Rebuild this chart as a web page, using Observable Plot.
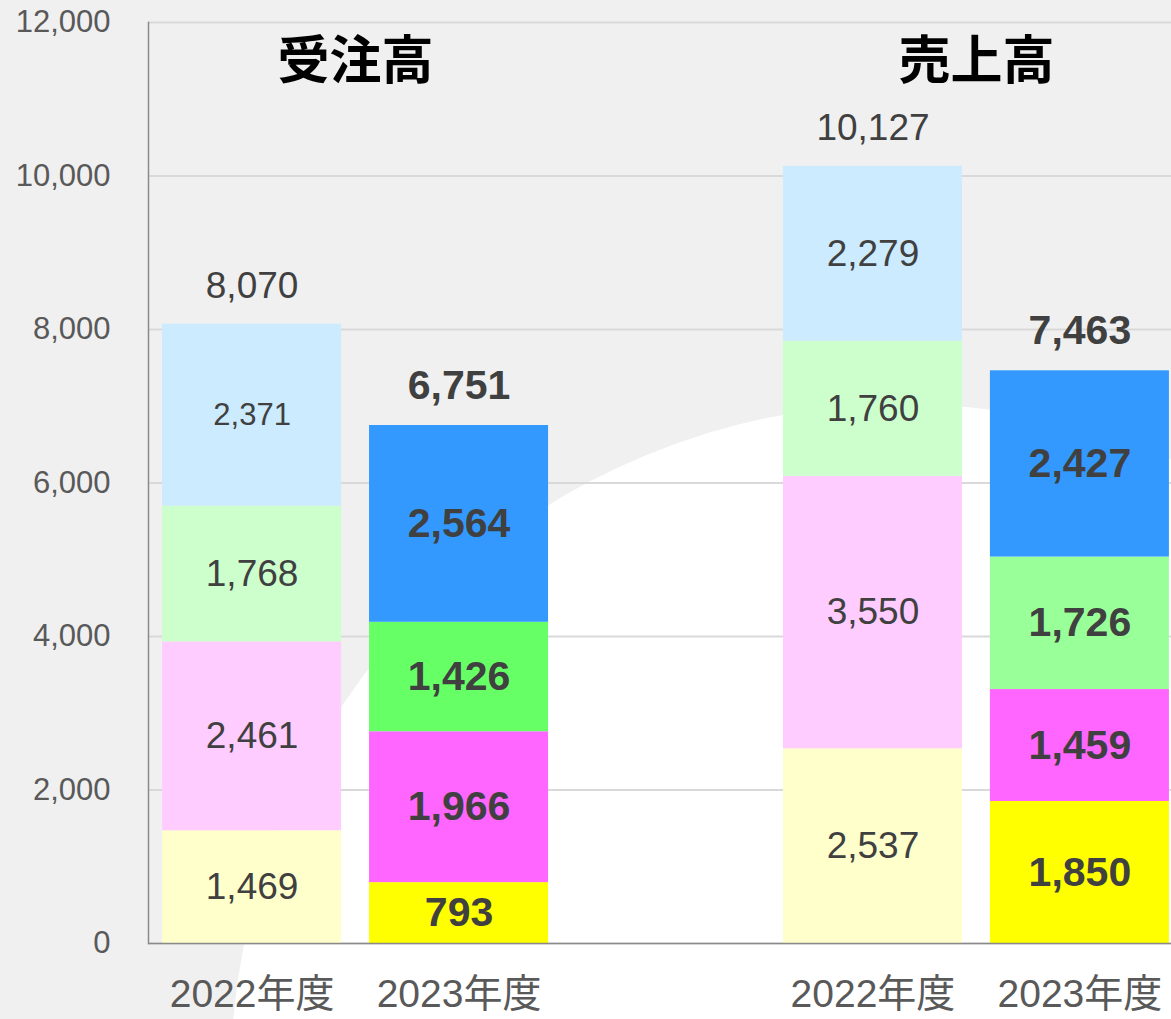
<!DOCTYPE html>
<html><head><meta charset="utf-8">
<script src="https://cdn.jsdelivr.net/npm/d3@7"></script>
<script src="https://cdn.jsdelivr.net/npm/@observablehq/plot@0.6"></script>
<style>
html,body{margin:0;padding:0;background:#f0f0f0;overflow:hidden;}
#wrap{position:relative;width:1171px;height:1019px;overflow:hidden;background:#f0f0f0;}
#circle{position:absolute;left:231px;top:404px;width:1344px;height:1344px;border-radius:50%;background:#ffffff;}
#chart{position:absolute;left:0;top:0;}
</style></head><body>
<div id="wrap"><div id="circle"></div><div id="chart"></div></div>
<script>
// ---- data ----
const groups = ["受注高", "売上高"];
const years = ["2022年度", "2023年度"];
const orders2022 = [1469, 2461, 1768, 2371];   // bottom -> top
const orders2023 = [793, 1966, 1426, 2564];
const sales2022 = [2537, 3550, 1760, 2279];
const sales2023 = [1850, 1459, 1726, 2427];
const totals = [8070, 6751, 10127, 7463];
const yTicks = [0, 2000, 4000, 6000, 8000, 10000, 12000];
const colors2022 = ["#FFFFCC", "#FFCCFF", "#CCFFCC", "#CCEBFF"];
const colorsOrders2023 = ["#FFFF00", "#FF66FF", "#66FF66", "#3399FF"];
const colorsSales2023 = ["#FFFF00", "#FF66FF", "#99FF99", "#3399FF"];

// ---- build tables ----
const key = (g, y) => g + "|" + y;
const GAP = "gap";
const domain = [key(groups[0], years[0]), key(groups[0], years[1]), GAP, key(groups[1], years[0]), key(groups[1], years[1])];
const series = [
  {g: groups[0], y: years[0], values: orders2022, colors: colors2022, bold: false},
  {g: groups[0], y: years[1], values: orders2023, colors: colorsOrders2023, bold: true},
  {g: groups[1], y: years[0], values: sales2022, colors: colors2022, bold: false},
  {g: groups[1], y: years[1], values: sales2023, colors: colorsSales2023, bold: true}
];
const segs = [];
const tops = [];
series.forEach((s, i) => {
  let acc = 0;
  s.values.forEach((v, j) => {
    segs.push({k: key(s.g, s.y), y1: acc, y2: acc + v, mid: acc + v / 2, value: v, color: s.colors[j], bold: s.bold, top: j === s.values.length - 1 && !s.bold && s.g === groups[0]});
    acc += v;
  });
  tops.push({k: key(s.g, s.y), top: acc, label: totals[i], bold: s.bold});
});

const fmt = d3.format(",");
const xRange = [148, 1183];
const pIn = 0.135, pOut = 0.068;
const step = (xRange[1] - xRange[0]) / (domain.length - pIn + 2 * pOut);
const font = "'Liberation Sans', Arial, 'Noto Sans CJK JP', sans-serif";
const txt = "#404040";

const chart = Plot.plot({
  width: 1171,
  height: 1019,
  marginTop: 22,
  marginBottom: 76,
  marginLeft: 148,
  marginRight: 0,
  style: {background: "transparent", fontFamily: font, overflow: "visible"},
  x: {type: "band", domain, range: xRange, paddingInner: pIn, paddingOuter: pOut, round: false, label: null},
  y: {domain: [0, 12000], label: null},
  marks: [
    Plot.gridY(yTicks, {stroke: "#d9d9d9", strokeOpacity: 1, strokeWidth: 2}),
    Plot.barY(segs, {x: "k", y1: "y1", y2: "y2", fill: "color"}),
    Plot.ruleY([0], {stroke: "#8a8a8a", strokeWidth: 1.5}),
    Plot.frame({anchor: "left", stroke: "#8a8a8a", strokeWidth: 1.5}),
    Plot.axisY({ticks: yTicks, tickFormat: fmt, tickSize: 0, tickPadding: 38, fontSize: 31, fill: "#595959", label: null}),
    Plot.axisX({ticks: domain.filter(d => d !== GAP), tickFormat: d => d.split("|")[1], tickSize: 0, tickPadding: 36, fontSize: 39, fill: "#595959", label: null}),
    // segment labels
    Plot.text(segs.filter(d => !d.bold), {x: "k", y: "mid", text: d => fmt(d.value), fontSize: d => d.top ? 31 : 37, fill: txt, lineAnchor: "middle"}),
    Plot.text(segs.filter(d => d.bold), {x: "k", y: "mid", text: d => fmt(d.value), fontSize: 41, fontWeight: "bold", fill: txt, lineAnchor: "middle"}),
    // totals
    Plot.text(tops.filter(d => !d.bold), {x: "k", y: "top", text: d => fmt(d.label), dy: -38, fontSize: 37, fill: txt, lineAnchor: "middle"}),
    Plot.text(tops.filter(d => d.bold), {x: "k", y: "top", text: d => fmt(d.label), dy: -40, fontSize: 41, fontWeight: "bold", fill: txt, lineAnchor: "middle"}),
    // group titles
    Plot.text(groups, {x: g => key(g, years[0]), frameAnchor: "top", dy: 40, dx: step / 2, text: d => d, fontSize: 52, fontWeight: "bold", fill: "#000", lineAnchor: "middle", fontFamily: "'Noto Sans CJK JP', sans-serif"})
  ]
});
document.getElementById("chart").appendChild(chart);
</script></body></html>
